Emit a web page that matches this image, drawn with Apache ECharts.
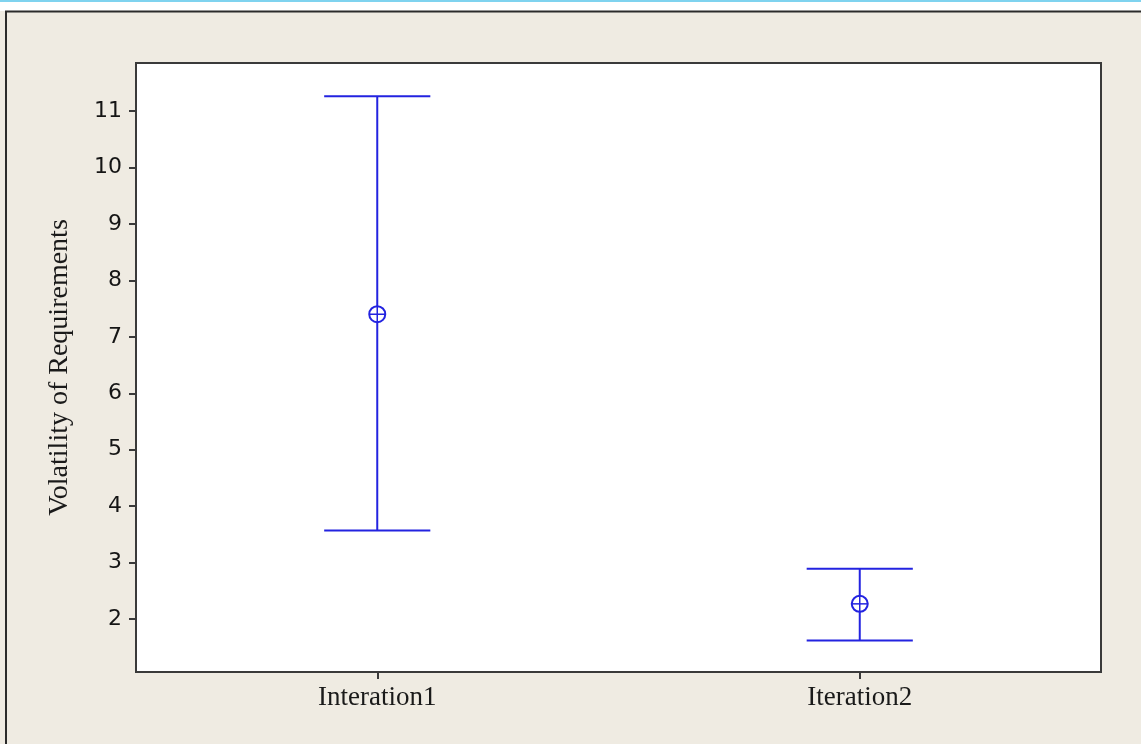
<!DOCTYPE html>
<html>
<head>
<meta charset="utf-8">
<script src="https://cdn.jsdelivr.net/npm/echarts@6/dist/echarts.min.js"></script>
<style>
html,body{margin:0;padding:0;background:#fff;}
#main{width:1141px;height:744px;}
</style>
</head>
<body>
<div id="main"></div>
<script>
const categories = ['Interation1', 'Iteration2'];
const lowerValues = [3.57, 1.62];
const meanValues = [7.40, 2.27];
const upperValues = [11.26, 2.89];
const yTicks = [2, 3, 4, 5, 6, 7, 8, 9, 10, 11];

const chart = echarts.init(document.getElementById('main'), null, {renderer: 'canvas'});
const blue = '#2323e0';
const data = categories.map((c, i) => [i, lowerValues[i], upperValues[i], meanValues[i]]);

function renderItem(params, api) {
  const x = api.value(0);
  const lo = api.coord([x, api.value(1)]);
  const hi = api.coord([x, api.value(2)]);
  const mid = api.coord([x, api.value(3)]);
  const band = api.size([1, 0])[0];
  const hw = band * 0.11;
  const r = 8;
  const style = {stroke: blue, lineWidth: 2, fill: null};
  return {
    type: 'group',
    children: [
      {type: 'line', shape: {x1: hi[0], y1: hi[1], x2: lo[0], y2: lo[1]}, style: style},
      {type: 'line', shape: {x1: hi[0] - hw, y1: hi[1], x2: hi[0] + hw, y2: hi[1]}, style: style},
      {type: 'line', shape: {x1: lo[0] - hw, y1: lo[1], x2: lo[0] + hw, y2: lo[1]}, style: style},
      {type: 'circle', shape: {cx: mid[0], cy: mid[1], r: r}, style: {stroke: blue, lineWidth: 2, fill: '#fff'}},
      {type: 'line', shape: {x1: mid[0] - r, y1: mid[1], x2: mid[0] + r, y2: mid[1]}, style: {stroke: blue, lineWidth: 1.5}},
      {type: 'line', shape: {x1: mid[0], y1: mid[1] - r, x2: mid[0], y2: mid[1] + r}, style: {stroke: blue, lineWidth: 1.5}}
    ]
  };
}

chart.setOption({
  backgroundColor: '#efebe2',
  animation: false,
  graphic: [
    {type: 'rect', shape: {x: 0, y: 0, width: 1141, height: 11}, style: {fill: '#ffffff'}, z: -10},
    {type: 'line', shape: {x1: 0, y1: 1, x2: 1141, y2: 1}, style: {stroke: '#7fd3ef', lineWidth: 2}, z: -9},
    {type: 'rect', shape: {x: 6, y: 11.5, width: 1160, height: 760}, style: {fill: null, stroke: '#2b2b2b', lineWidth: 2}, z: -8}
  ],
  grid: {
    left: 136, right: 40, top: 63, bottom: 72,
    show: true, backgroundColor: '#ffffff', borderColor: '#3a3a3a', borderWidth: 2
  },
  xAxis: {
    type: 'category',
    data: categories,
    boundaryGap: true,
    axisLine: {show: true, lineStyle: {color: '#3a3a3a', width: 2}},
    axisTick: {show: true, alignWithLabel: true, length: 7, lineStyle: {color: '#3a3a3a', width: 2}},
    axisLabel: {color: '#1a1a1a', fontFamily: 'Liberation Serif', fontSize: 27, margin: 12},
    splitLine: {show: false}
  },
  yAxis: {
    type: 'value',
    min: 1.063,
    max: 11.85,
    name: 'Volatility of Requirements',
    nameLocation: 'middle',
    nameGap: 62,
    nameTextStyle: {color: '#1a1a1a', fontFamily: 'Liberation Serif', fontSize: 28},
    axisLine: {show: true, lineStyle: {color: '#3a3a3a', width: 2}},
    axisTick: {show: true, length: 7, customValues: yTicks, lineStyle: {color: '#3a3a3a', width: 2}},
    axisLabel: {
      color: '#151515', fontFamily: 'DejaVu Sans', fontSize: 22, margin: 14,
      customValues: yTicks
    },
    splitLine: {show: false}
  },
  series: [{
    type: 'custom',
    renderItem: renderItem,
    encode: {x: 0, y: [1, 2, 3]},
    data: data
  }]
});
</script>
</body>
</html>
